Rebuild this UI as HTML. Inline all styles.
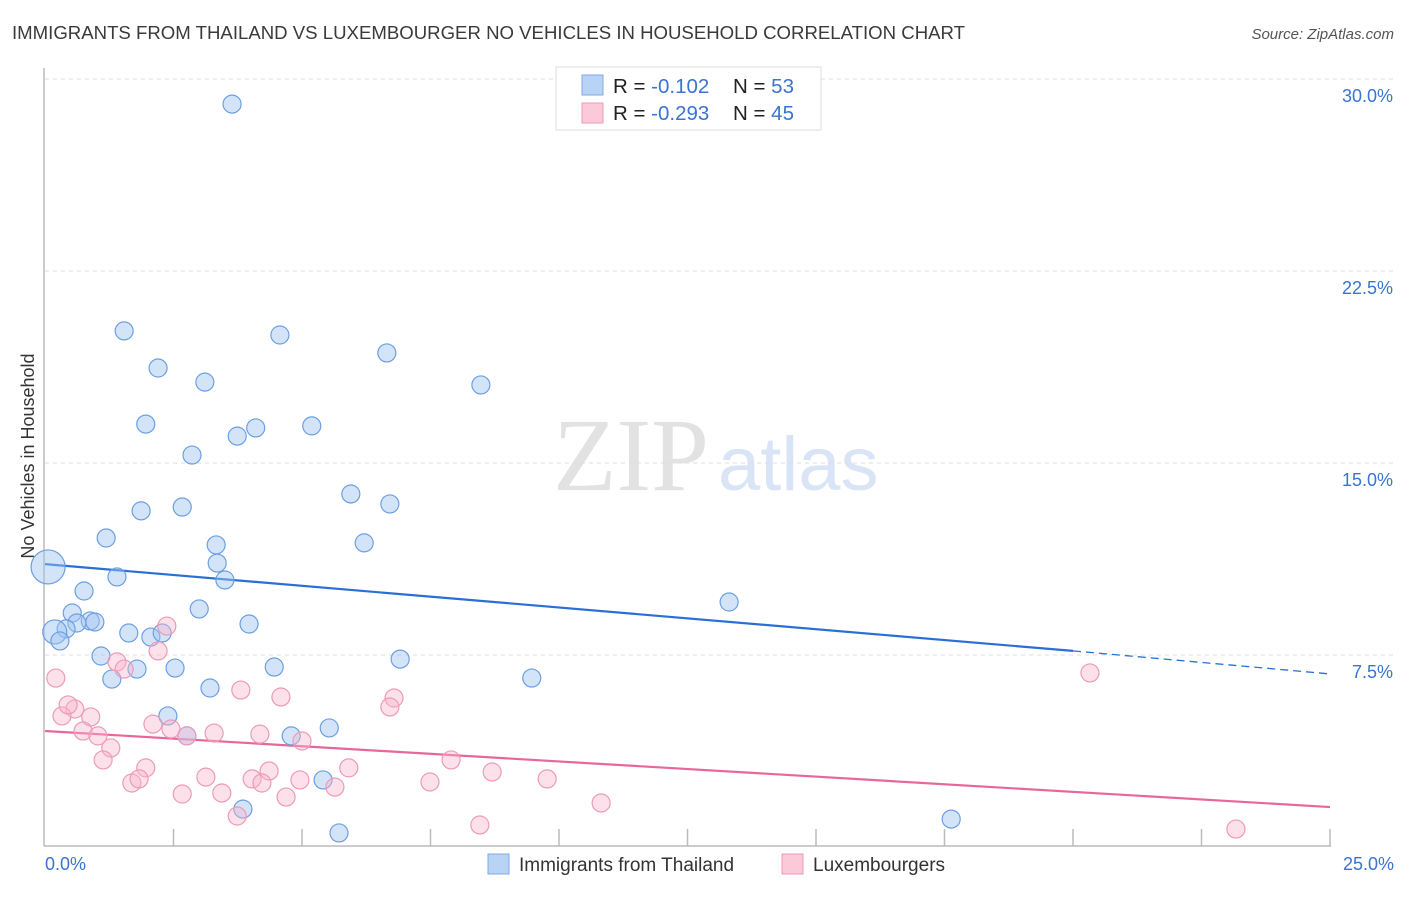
<!DOCTYPE html>
<html><head><meta charset="utf-8"><style>
body{margin:0;background:#fff;font-family:"Liberation Sans",sans-serif;}
</style></head><body>
<svg id="chart" width="1406" height="892" xmlns="http://www.w3.org/2000/svg" font-family="Liberation Sans, sans-serif">
<text x="12" y="39" font-size="18.5" fill="#3a3a3a" textLength="953" lengthAdjust="spacingAndGlyphs">IMMIGRANTS FROM THAILAND VS LUXEMBOURGER NO VEHICLES IN HOUSEHOLD CORRELATION CHART</text>
<text x="1394" y="39" font-size="15" fill="#555" text-anchor="end" font-style="italic">Source: ZipAtlas.com</text>
<text x="34" y="456" font-size="18" fill="#333" text-anchor="middle" transform="rotate(-90 34 456)">No Vehicles in Household</text>
<g>
<text x="553" y="490" font-size="104" fill="#e2e2e2" style="font-family:'Liberation Serif',serif">ZIP</text>
<text x="718" y="490" font-size="76" fill="#d9e5f6" style="font-family:'Liberation Sans',sans-serif">atlas</text>
</g>
<g id="grid"></g><g id="axes"></g><g id="lines"></g><g id="pts"></g>
<g>
<rect x="556" y="67" width="265" height="63" fill="#fff" stroke="#ddd"/>
<rect x="582" y="75" width="21" height="20" fill="#b9d3f5" stroke="#7eaae6"/>
<rect x="582" y="103" width="21" height="20" fill="#fbc9d8" stroke="#ef9ab5"/>
<text x="613" y="93" font-size="20.5" fill="#222">R = <tspan fill="#3b73d1">-0.102</tspan></text>
<text x="733" y="93" font-size="20.5" fill="#222">N = <tspan fill="#3b73d1">53</tspan></text>
<text x="613" y="120" font-size="20.5" fill="#222">R = <tspan fill="#3b73d1">-0.293</tspan></text>
<text x="733" y="120" font-size="20.5" fill="#222">N = <tspan fill="#3b73d1">45</tspan></text>
</g>
<g>
<rect x="488" y="854" width="21" height="20" fill="#b9d3f5" stroke="#7eaae6"/>
<text x="519" y="871" font-size="19" fill="#333">Immigrants from Thailand</text>
<rect x="782" y="854" width="21" height="20" fill="#fbc9d8" stroke="#ef9ab5"/>
<text x="813" y="871" font-size="19" fill="#333">Luxembourgers</text>
</g>
</svg>
<script>
const xTicks=[0,2.5,5,7.5,10,12.5,15,17.5,20,22.5,25];
const yTicks=[7.5,15,22.5,30];
const yTickLabels=["7.5%","15.0%","22.5%","30.0%"];
const xEndLabels=["0.0%","25.0%"];
const blueX=[3.64,1.54,4.57,2.20,6.65,3.11,8.48,1.96,4.10,3.74,5.19,2.86,5.95,6.71,1.87,2.67,1.19,3.33,6.21,3.35,1.40,3.50,0.76,0.53,3.00,0.88,0.97,0.62,0.41,3.97,1.63,2.06,2.28,0.19,0.29,1.09,2.53,1.79,4.46,6.91,1.30,9.47,13.31,3.21,2.39,5.53,2.76,4.79,5.41,3.85,5.72,17.63,0.06];
const blueY=[29.02,20.16,20.0,18.71,19.30,18.16,18.05,16.52,16.37,16.05,16.45,15.31,13.79,13.40,13.13,13.28,12.07,11.80,11.88,11.09,10.55,10.43,10.0,9.14,9.30,8.83,8.79,8.75,8.52,8.71,8.36,8.20,8.36,8.40,8.05,7.46,6.99,6.95,7.03,7.34,6.56,6.60,9.57,6.21,5.12,4.65,4.34,4.34,2.62,1.48,0.55,1.09,10.94];
const blueR=[9,9,9,9,9,9,9,9,9,9,9,9,9,9,9,9,9,9,9,9,9,9,9,9,9,9,9,9,9,9,9,9,9,12,9,9,9,9,9,9,9,9,9,9,9,9,9,9,9,9,9,9,17];
const pinkX=[0.21,1.40,1.54,2.20,2.37,0.58,0.33,0.89,2.10,2.45,0.74,1.03,3.29,4.18,5.00,1.28,1.13,3.81,4.59,6.79,6.71,1.96,1.69,1.83,3.13,4.03,4.36,4.96,4.22,5.91,5.64,7.90,8.70,9.77,7.49,2.67,3.44,4.69,3.74,10.82,8.46,20.33,23.17,2.76,0.45];
const pinkY=[6.60,7.23,6.95,7.66,8.63,5.39,5.12,5.08,4.80,4.61,4.53,4.34,4.45,4.41,4.14,3.87,3.40,6.13,5.86,5.82,5.47,3.09,2.50,2.66,2.73,2.66,2.97,2.62,2.50,3.09,2.34,3.40,2.93,2.66,2.54,2.07,2.11,1.95,1.21,1.72,0.86,6.80,0.70,4.34,5.55];
const blueTrend=[11.05,7.66,6.76];
const blueTrendX=[0,20,25];
const pinkTrend=[4.53,1.56];
const pinkTrendX=[0,25];
const NS="http://www.w3.org/2000/svg";
const X=v=>45+v/25*1285, Y=v=>847-v/7.5*192;
function mk(tag,parent,attrs){const e=document.createElementNS(NS,tag);for(const k in attrs)e.setAttribute(k,attrs[k]);document.getElementById(parent).appendChild(e);return e;}
yTicks.forEach((t,i)=>{
 const g=mk('line','grid',{x1:45,x2:1395,y1:Y(t),y2:Y(t),stroke:'#ddd','stroke-dasharray':'4,4'});
 
 
 const l=mk('text','axes',{x:1393,y:Y(t)+23,'font-size':18,fill:'#3b73d1','text-anchor':'end'});l.textContent=yTickLabels[i];
 
 
});
const ax=mk('line','axes',{x1:44,x2:44,y1:68,y2:846,stroke:'#bbb','stroke-width':1.5});


const bx=mk('line','axes',{x1:44,x2:1331,y1:846,y2:846,stroke:'#bbb','stroke-width':1.5});


xTicks.slice(1).forEach(t=>{const k=mk('line','axes',{x1:X(t),x2:X(t),y1:829,y2:846,stroke:'#bbb','stroke-width':1.5});
 
 });
const l0=mk('text','axes',{x:45,y:870,'font-size':18,fill:'#3b73d1'});l0.textContent=xEndLabels[0];


const l1=mk('text','axes',{x:1394,y:870,'font-size':18,fill:'#3b73d1','text-anchor':'end'});l1.textContent=xEndLabels[1];


blueX.forEach((x,i)=>{const c=mk('circle','pts',{cx:X(x),cy:Y(blueY[i]),r:blueR[i],fill:'rgba(160,195,240,0.45)',stroke:'#6b9fe3','stroke-width':1.2});
 
 });
pinkX.forEach((x,i)=>{const c=mk('circle','pts',{cx:X(x),cy:Y(pinkY[i]),r:9,fill:'rgba(248,180,202,0.4)',stroke:'#ee9ab6','stroke-width':1.2});
 
 });
const b1=mk('line','lines',{x1:X(blueTrendX[0]),y1:Y(blueTrend[0]),x2:X(blueTrendX[1]),y2:Y(blueTrend[1]),stroke:'#2a6fd6','stroke-width':2.2});


const b2=mk('line','lines',{x1:X(blueTrendX[1]),y1:Y(blueTrend[1]),x2:X(blueTrendX[2]),y2:Y(blueTrend[2]),stroke:'#2a6fd6','stroke-width':1.3,'stroke-dasharray':'8,5'});


const p1=mk('line','lines',{x1:X(pinkTrendX[0]),y1:Y(pinkTrend[0]),x2:X(pinkTrendX[1]),y2:Y(pinkTrend[1]),stroke:'#e8679a','stroke-width':2.2});


</script>
</body></html>
